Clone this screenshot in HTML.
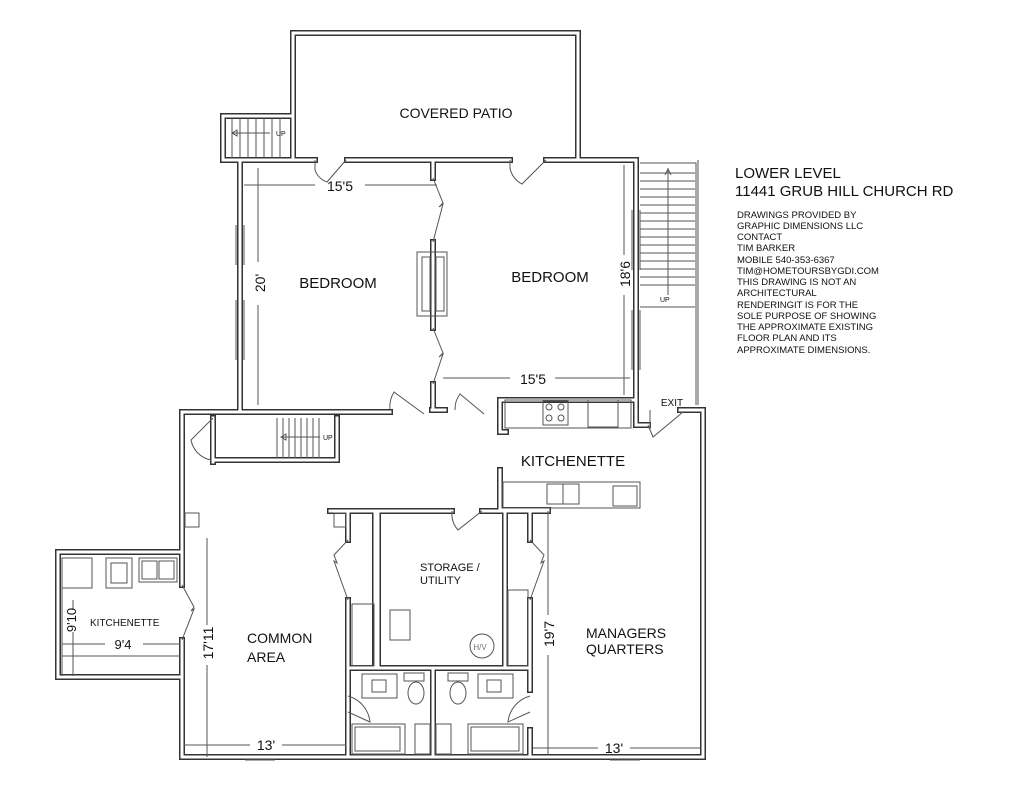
<!DOCTYPE html>
<html><head><meta charset="utf-8"><style>
html,body{margin:0;padding:0;background:#fff;}
svg{display:block;font-family:"Liberation Sans",Arial,sans-serif;}
</style></head><body>
<svg width="1024" height="791" viewBox="0 0 1024 791" xmlns="http://www.w3.org/2000/svg">
<defs>
<g id="walls" fill="none" stroke-linecap="square">
<path d="M293 160 V33 H578 V160"/>
<path d="M293 116 H223 V160 H293"/>
<path d="M223 160 H315 M347 160 H510 M546 160 H636"/>
<path d="M240 160 V410"/>
<path d="M636 160 V405"/>
<path d="M433 160 V178 M433 242 V328 M433 384 V410"/>
<path d="M182 412 H390 M432 410 H445 M500 400 H636"/>
<path d="M182 412 V552 H58 V677 H182 V757 H703 V410 H680"/>
<path d="M182 552 V585 M182 640 V677"/>
<path d="M636 405 V425 H648"/>
<path d="M500 400 V432 H506"/>
<path d="M500 470 V510 H548"/>
<path d="M215 460 H337 V418"/>
<path d="M213 418 V462"/>
<path d="M330 511 H452 M482 511 H548"/>
<path d="M378 511 V668 H505 V511"/>
<path d="M348 511 V540 M348 600 V757"/>
<path d="M530 511 V540 M530 600 V690 M530 730 V757"/>
<path d="M348 668 H530"/>
<path d="M433 668 V757"/>
<path d="M375 511 V668 M505 511 V668"/>
</g>
</defs>
<use href="#walls" stroke="#333" stroke-width="6"/>
<use href="#walls" stroke="#fff" stroke-width="3"/>

<g fill="none" stroke="#555" stroke-width="1">
<path d="M232 118 V158 M240 118 V158 M248 118 V158 M256 118 V158 M264 118 V158 M272 118 V158 M280 118 V158"/>
<path d="M232 133 H270 M232 133 l5 -3 v6 z"/>
<path d="M315 160 v10 a20 20 0 0 0 12 12 l19 -22"/>
<path d="M510 160 v8 a22 22 0 0 0 12 16 l24 -24"/>
<path d="M433 178 l10 25 l-4 4 l4 -3 l-10 38"/>
<path d="M433 328 l10 25 l-4 4 l4 -3 l-10 30"/>
<rect x="417" y="252" width="30" height="64"/>
<rect x="422" y="257" width="8" height="54"/>
<rect x="436" y="257" width="8" height="54"/>
<path d="M640 163 H696 V405 M698 160 V405"/>
<path d="M640 173 H695 M640 181 H695 M640 189 H695 M640 197 H695 M640 205 H695 M640 213 H695 M640 221 H695 M640 229 H695 M640 237 H695 M640 245 H695 M640 253 H695 M640 261 H695 M640 269 H695 M640 277 H695 M640 285 H695 M640 307 H695"/>
<path d="M668 168 V295 M665 175 l3 -6 l3 6"/>
<path d="M236 225 V265 M244 225 V265 M236 300 V360 M244 300 V360"/>
<path d="M632 210 V270 M640 210 V270 M632 310 V370 M640 310 V370"/>
<path d="M244 185 H315 M365 185 H437"/>
<path d="M258 168 V262 M258 305 V405"/>
<path d="M443 378 H510 M555 378 H630"/>
<path d="M624 165 V255 M624 295 V395"/>
<path d="M390 410 a28 28 0 0 1 4 -18 l30 22"/>
<path d="M455 410 a25 25 0 0 1 5 -16 l24 20"/>
<rect x="505" y="400" width="126" height="28"/>
<rect x="543" y="401" width="25" height="24"/>
<circle cx="549" cy="407" r="3"/><circle cx="561" cy="407" r="3"/><circle cx="549" cy="418" r="3"/><circle cx="561" cy="418" r="3"/>
<rect x="588" y="400" width="30" height="27"/>
<path d="M648 425 l5 12 l30 -25 M650 410 V430"/>
<path d="M277 418 V458 M283 418 V458 M289 418 V458 M295 418 V458 M301 418 V458 M307 418 V458 M313 418 V458 M319 418 V458"/>
<path d="M281 437 H320 M281 437 l5 -3 v6 z"/>
<path d="M213 418 l-22 22 a25 25 0 0 0 20 20"/>
<rect x="503" y="482" width="137" height="26"/>
<rect x="547" y="484" width="32" height="20"/>
<rect x="613" y="486" width="24" height="20"/>
<path d="M563 484 V504"/>
<path d="M452 511 a25 25 0 0 0 6 19 l24 -19"/>
<rect x="185" y="513" width="14" height="14"/>
<rect x="334" y="513" width="12" height="14"/>
<path d="M348 540 l-14 15 l3 8 l-3 -2 l14 39"/>
<path d="M530 540 l14 15 l-3 8 l3 -2 l-14 39"/>
<path d="M182 585 l12 22 l-3 4 l3 -2 l-12 31"/>
<rect x="352" y="604" width="22" height="62"/>
<rect x="508" y="590" width="20" height="76"/>
<rect x="390" y="610" width="20" height="30"/>
<circle cx="482" cy="646" r="12"/>
<rect x="362" y="674" width="35" height="24"/><rect x="372" y="680" width="14" height="12"/>
<rect x="404" y="673" width="20" height="8"/><ellipse cx="416" cy="693" rx="8" ry="11"/>
<rect x="448" y="673" width="20" height="8"/><ellipse cx="458" cy="693" rx="8" ry="11"/>
<rect x="478" y="674" width="35" height="24"/><rect x="487" y="680" width="14" height="12"/>
<rect x="352" y="724" width="53" height="30"/><rect x="355" y="727" width="45" height="24"/>
<rect x="415" y="724" width="15" height="30"/><rect x="436" y="724" width="15" height="30"/>
<rect x="468" y="724" width="55" height="30"/><rect x="471" y="727" width="48" height="24"/>
<path d="M348 712 l22 10 a30 30 0 0 0 -22 -26"/>
<path d="M530 712 l-22 10 a30 30 0 0 1 22 -26"/>
<rect x="62" y="558" width="30" height="30"/>
<rect x="106" y="558" width="26" height="30"/><rect x="111" y="563" width="16" height="20"/>
<rect x="139" y="558" width="38" height="24"/><rect x="142" y="561" width="15" height="18"/><rect x="159" y="561" width="15" height="18"/>
<path d="M62 588 V676 M62 644 H105 M143 644 H180 M62 656 H180"/>
<path d="M207 538 V625 M207 665 V757"/>
<path d="M184 745 H250 M282 745 H346"/>
<path d="M548 511 V615 M548 655 V755"/>
<path d="M533 748 H598 M630 748 H700"/>
<path d="M73 600 V610 M73 632 V676"/>
<path d="M245 760 H275 M610 760 H640"/>
</g>

<g fill="#111" font-size="15">
<text x="456" y="118" text-anchor="middle" font-size="14">COVERED PATIO</text>
<text x="340" y="191" text-anchor="middle" font-size="14">15'5</text>
<text x="338" y="288" text-anchor="middle">BEDROOM</text>
<text x="550" y="282" text-anchor="middle">BEDROOM</text>
<text x="533" y="384" text-anchor="middle" font-size="14">15'5</text>
<text transform="translate(265,283) rotate(-90)" text-anchor="middle" font-size="14">20'</text>
<text transform="translate(630,274) rotate(-90)" text-anchor="middle" font-size="14">18'6</text>
<text x="672" y="406" text-anchor="middle" font-size="10">EXIT</text>
<text x="573" y="466" text-anchor="middle" font-size="15">KITCHENETTE</text>
<text x="420" y="571" font-size="11">STORAGE /</text>
<text x="420" y="584" font-size="11">UTILITY</text>
<text x="247" y="643" font-size="14">COMMON</text>
<text x="247" y="662" font-size="14">AREA</text>
<text x="586" y="638" font-size="14">MANAGERS</text>
<text x="586" y="654" font-size="14">QUARTERS</text>
<text transform="translate(554,634) rotate(-90)" text-anchor="middle" font-size="14">19'7</text>
<text transform="translate(213,643) rotate(-90)" text-anchor="middle" font-size="14">17'11</text>
<text x="266" y="750" text-anchor="middle" font-size="14">13'</text>
<text x="614" y="753" text-anchor="middle" font-size="14">13'</text>
<text transform="translate(76,620) rotate(-90)" text-anchor="middle" font-size="13">9'10</text>
<text x="90" y="626" font-size="10">KITCHENETTE</text>
<text x="123" y="649" text-anchor="middle" font-size="13">9'4</text>
<text x="480" y="650" text-anchor="middle" font-size="8" fill="#777">H/V</text>
<text x="276" y="136" font-size="7">UP</text>
<text x="660" y="302" font-size="7">UP</text>
<text x="323" y="440" font-size="7">UP</text>
</g>

<g fill="#111">
<text x="735" y="178" font-size="15">LOWER LEVEL</text>
<text x="735" y="196" font-size="15">11441 GRUB HILL CHURCH RD</text>
<g font-size="9.5">
<text x="737" y="218">DRAWINGS PROVIDED BY</text>
<text x="737" y="229">GRAPHIC DIMENSIONS LLC</text>
<text x="737" y="240">CONTACT</text>
<text x="737" y="251">TIM BARKER</text>
<text x="737" y="263">MOBILE 540-353-6367</text>
<text x="737" y="274">TIM@HOMETOURSBYGDI.COM</text>
<text x="737" y="285">THIS DRAWING IS NOT AN</text>
<text x="737" y="296">ARCHITECTURAL</text>
<text x="737" y="308">RENDERINGIT IS FOR THE</text>
<text x="737" y="319">SOLE PURPOSE OF SHOWING</text>
<text x="737" y="330">THE APPROXIMATE EXISTING</text>
<text x="737" y="341">FLOOR PLAN AND ITS</text>
<text x="737" y="353">APPROXIMATE DIMENSIONS.</text>
</g>
</g>
</svg>
</body></html>
